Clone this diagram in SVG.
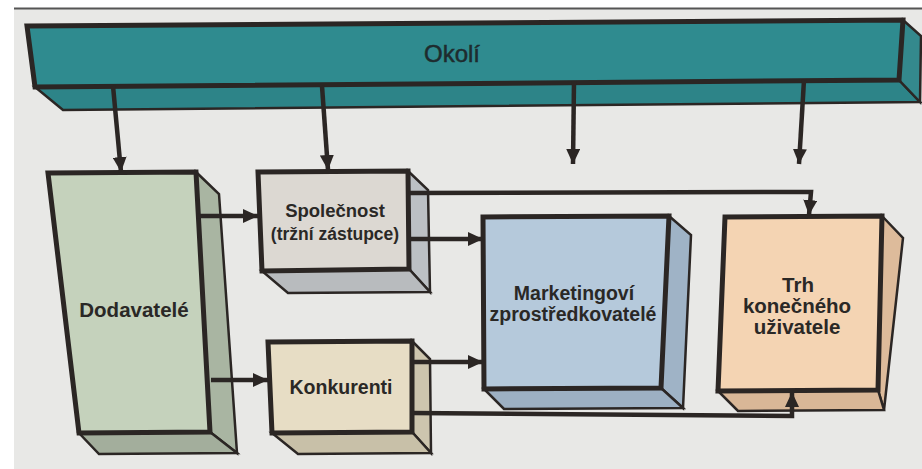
<svg xmlns="http://www.w3.org/2000/svg" width="922" height="469" viewBox="0 0 922 469">
<style>
.face{stroke:#2b2624;stroke-linejoin:miter}
.front{stroke-width:5}
.thin{stroke-width:2.5}
.lbl{font-family:"Liberation Sans",Arial,sans-serif;font-weight:bold;fill:#2a2826;text-anchor:middle}
.con{fill:none;stroke:#2b2624;stroke-width:4.5;stroke-linejoin:miter}
</style>
<defs>
<marker id="ah" markerUnits="userSpaceOnUse" markerWidth="16" markerHeight="14" refX="15" refY="7" orient="auto">
<path d="M0,0 L15,7 L0,14 Z" fill="#2b2624"/>
</marker>
</defs>
<rect width="922" height="469" fill="#ffffff"/>
<rect x="14" y="8" width="908" height="461" fill="#e8e8e6"/>
<line x1="14" y1="8.5" x2="922" y2="8.5" stroke="#555" stroke-width="2"/>

<g id="okoli">
<polygon class="face thin" points="35,87 899,80 920,102 63,110" fill="#2d8488"/>
<polygon class="face thin" points="903,20 921,36 920,102 899,80" fill="#34898d"/>
<polygon class="face front" points="27,26 903,20 899,80 35,87" fill="#2f8b8f"/>
<text x="452" y="62" font-family="Liberation Sans, Arial, sans-serif" font-size="24" fill="#1e2b2e" stroke="#1e2b2e" stroke-width="0.5" text-anchor="middle">Okolí</text>
</g>

<g id="dodavatele">
<polygon class="face thin" points="196,172 219,194 237,453 210,432" fill="#a9b5a2"/>
<polygon class="face thin" points="79,433 210,432 237,453 99,454" fill="#a3ae9c"/>
<polygon class="face front" points="48,173 196,172 210,432 79,433" fill="#c5d2bc"/>
<text class="lbl" x="134" y="317" font-size="20.5">Dodavatelé</text>
</g>

<g id="spolecnost">
<polygon class="face thin" points="408,171 428,190 430,292 409,269" fill="#bcc0c4"/>
<polygon class="face thin" points="262,271 409,269 430,292 288,293" fill="#b8bbbe"/>
<polygon class="face front" points="258,172 408,171 409,269 262,271" fill="#dcd8d2"/>
<text class="lbl" x="335" y="217" font-size="18.5">Společnost</text>
<text class="lbl" x="335" y="240" font-size="17.5">(tržní zástupce)</text>
</g>

<g id="konkurenti">
<polygon class="face thin" points="412,341 430,359 431,453 412,432" fill="#cdc5ae"/>
<polygon class="face thin" points="272,433 412,432 431,453 298,454" fill="#c8c0a8"/>
<polygon class="face front" points="268,342 412,341 412,432 272,433" fill="#e7ddc5"/>
<text class="lbl" x="341" y="394" font-size="19.5">Konkurenti</text>
</g>

<g id="marketing">
<polygon class="face thin" points="669,216 691,235 683,408 661,388" fill="#9fb3c6"/>
<polygon class="face thin" points="484,389 661,388 683,408 504,409" fill="#9db0c3"/>
<polygon class="face front" points="483,217 669,216 661,388 484,389" fill="#b5c9db"/>
<text class="lbl" x="574" y="300" font-size="19.5">Marketingoví</text>
<text class="lbl" x="573" y="321" font-size="19.5">zprostředkovatelé</text>
</g>

<g id="trh">
<polygon class="face thin" points="882,216 903,238 884,410 878,390" fill="#ddbb9b"/>
<polygon class="face thin" points="718,391 878,390 884,410 738,411" fill="#d9b797"/>
<polygon class="face front" points="725,217 882,216 878,390 718,391" fill="#f4d4b3"/>
<text class="lbl" x="798" y="292" font-size="20.5">Trh</text>
<text class="lbl" x="797" y="313" font-size="20.5">konečného</text>
<text class="lbl" x="797" y="334" font-size="20.5">uživatele</text>
</g>

<g id="connectors">
<path class="con" d="M113,86 L121,172" marker-end="url(#ah)"/>
<path class="con" d="M322,86 L328,170" marker-end="url(#ah)"/>
<path class="con" d="M574,81 L573,164" marker-end="url(#ah)"/>
<path class="con" d="M804,80 L799,164" marker-end="url(#ah)"/>
<path class="con" d="M197,216 L258,216" marker-end="url(#ah)"/>
<path class="con" d="M211,380 L268,380" marker-end="url(#ah)"/>
<path class="con" d="M409,193 L811,192 L809,215" marker-end="url(#ah)"/>
<path class="con" d="M409,239 L483,239" marker-end="url(#ah)"/>
<path class="con" d="M412,362 L483,362" marker-end="url(#ah)"/>
<path class="con" d="M412,413 L792,416 L792,392" marker-end="url(#ah)"/>
</g>
</svg>
